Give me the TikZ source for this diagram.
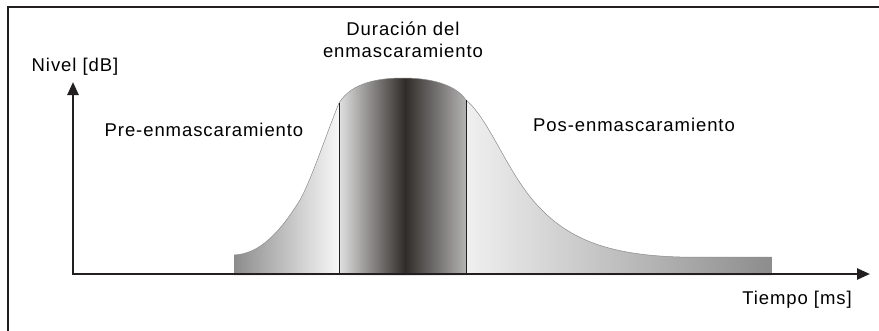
\documentclass[tikz,border=0pt]{standalone}
\usepackage{fontspec}
\setmainfont[LetterSpace=5]{Liberation Sans}
\usetikzlibrary{arrows.meta}

\definecolor{axisblack}{RGB}{35,31,32}
\definecolor{maskdark}{RGB}{48,44,41}

\tikzset{
	axis/.style={line width=2.5pt, draw=axisblack, line join=miter,
		{Triangle[length=13pt,width=11pt]}-{Triangle[length=13pt,width=11pt]}},
	txt/.style={inner sep=0pt, font=\fontsize{18.5}{22}\selectfont},
	divider/.style={draw=axisblack, line width=0.8pt}
}

% upper edge of the masking curve
\newcommand{\maskedge}{(234,255) .. controls (260,254) and (280,232) .. (300,200)
	.. controls (312,178) and (326,135) .. (339,103)
	.. controls (352,82) and (380,78) .. (403,78)
	.. controls (430,78) and (455,84) .. (466,100)
	.. controls (490,120) and (508,175) .. (539,207)
	.. controls (570,240) and (610,255) .. (680,257) -- (772,257)}

\begin{document}
\begin{tikzpicture}[x=1pt,y=-1pt]
	\clip (0,0) rectangle (879,330);
	\fill[white] (0,0) rectangle (879,330);
	\draw[line width=2.5pt, axisblack] (8,7) rectangle (900,350);

	% shaded regions
	\begin{scope}
		\clip \maskedge -- (772,275) -- (234,275) -- cycle;
		\shade[left color=black!45, right color=black!3] (234,70) rectangle (339,276);
		\shade[left color=black!12, right color=maskdark] (339,70) rectangle (405,276);
		\shade[left color=maskdark, right color=black!30] (405,70) rectangle (466,276);
		\shade[left color=black!6, right color=black!45] (466,70) rectangle (772,276);
	\end{scope}
	\draw[black!45, line width=0.5pt] \maskedge;

	\draw[divider] (339,274) -- (339,103);
	\draw[divider] (466,274) -- (466,100);

	% axes
	\coordinate (origin) at (73,274);
	\coordinate (ytop) at (73,82);
	\coordinate (xend) at (870,274);
	\draw[axis] (ytop) -- (origin) -- (xend);

	\node[txt] (nivel) at (75,67) {Nivel [dB]};
	\node[txt] (pre) at (204,130) {Pre-enmascaramiento};
	\node[txt, align=center] (duracion) at (403,40) {Duración del\\enmascaramiento};
	\node[txt] (pos) at (634,125) {Pos-enmascaramiento};
	\node[txt] (tiempo) at (797,300) {Tiempo [ms]};
\end{tikzpicture}
\end{document}
